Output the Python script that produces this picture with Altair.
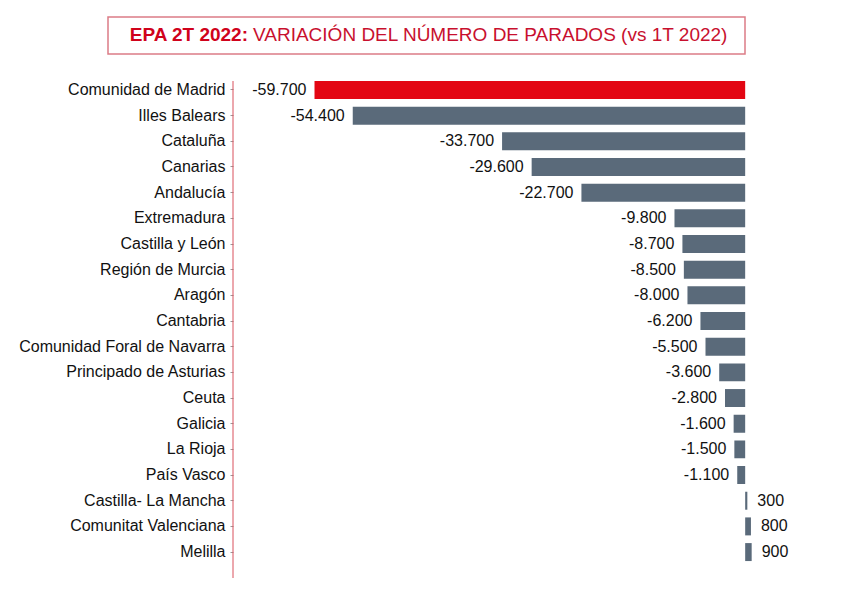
import altair as alt
import pandas as pd

regions = ["Comunidad de Madrid", "Illes Balears", "Cataluña", "Canarias", "Andalucía",
           "Extremadura", "Castilla y León", "Región de Murcia", "Aragón", "Cantabria",
           "Comunidad Foral de Navarra", "Principado de Asturias", "Ceuta", "Galicia",
           "La Rioja", "País Vasco", "Castilla- La Mancha", "Comunitat Valenciana", "Melilla"]
values = [-59700, -54400, -33700, -29600, -22700, -9800, -8700, -8500, -8000, -6200,
          -5500, -3600, -2800, -1600, -1500, -1100, 300, 800, 900]
highlight = ["Comunidad de Madrid"]


def fmt(v):
    s = f"{abs(v):,}".replace(",", ".")
    return ("-" if v < 0 else "") + s


df = pd.DataFrame({
    "region": regions,
    "value": values,
    "label": [fmt(v) for v in values],
    "hl": [r in highlight for r in regions],
})

FONT = "Liberation Sans"
W, H = 567, 497

x = alt.X("value:Q", scale=alt.Scale(domain=[-71000, 7600], nice=False, zero=True), axis=None)
y = alt.Y("region:N", sort=regions,
          scale=alt.Scale(paddingInner=0.3, paddingOuter=0.33, align=0),
          axis=alt.Axis(title=None, labelFont=FONT, labelFontSize=16, labelColor="#111",
                        labelLimit=400, domain=False, tickColor="#999", tickSize=3,
                        labelPadding=5, grid=False))

axis_line = alt.Chart(df).transform_filter("datum.hl").mark_rule(
    color="#d9505c", strokeWidth=1
).encode(x=alt.value(0), y=alt.value(0), y2=alt.value(H))

bars = alt.Chart(df).mark_bar().encode(
    x=x, x2=alt.datum(0), y=y,
    color=alt.condition("datum.hl", alt.value("#e30613"), alt.value("#5a6a7a")),
)

neg = alt.Chart(df).transform_filter("datum.value < 0").mark_text(
    align="right", baseline="middle", dx=-8, font=FONT, fontSize=16, color="#111"
).encode(x=x, y=y, text="label:N")

pos = alt.Chart(df).transform_filter("datum.value >= 0").mark_text(
    align="left", baseline="middle", dx=10, font=FONT, fontSize=16, color="#111"
).encode(x=x, y=y, text="label:N")

box = alt.Chart(df).transform_filter("datum.hl").mark_rect(
    fill="white", stroke="#dc7c86", strokeWidth=1.5
).encode(x=alt.value(-125), x2=alt.value(512), y=alt.value(-64), y2=alt.value(-27))

t1 = alt.Chart(df).transform_filter("datum.hl").mark_text(
    align="right", baseline="middle", font=FONT, fontSize=19, fontWeight="bold", color="#d0021b"
).encode(x=alt.value(15), y=alt.value(-46), text=alt.value("EPA 2T 2022:"))

t2 = alt.Chart(df).transform_filter("datum.hl").mark_text(
    align="left", baseline="middle", font=FONT, fontSize=19, color="#c8102e"
).encode(x=alt.value(20), y=alt.value(-46),
         text=alt.value("VARIACIÓN DEL NÚMERO DE PARADOS (vs 1T 2022)"))

chart = alt.layer(box, t1, t2, bars, neg, pos, axis_line).properties(
    width=W, height=H,
    background="white",
    autosize=alt.AutoSizeParams(type="none"),
    padding={"left": 225, "top": 73, "right": 10, "bottom": 10},
).configure_view(strokeWidth=0, stroke=None)

chart.save("out.html", embed_options={"renderer": "svg", "actions": False})
